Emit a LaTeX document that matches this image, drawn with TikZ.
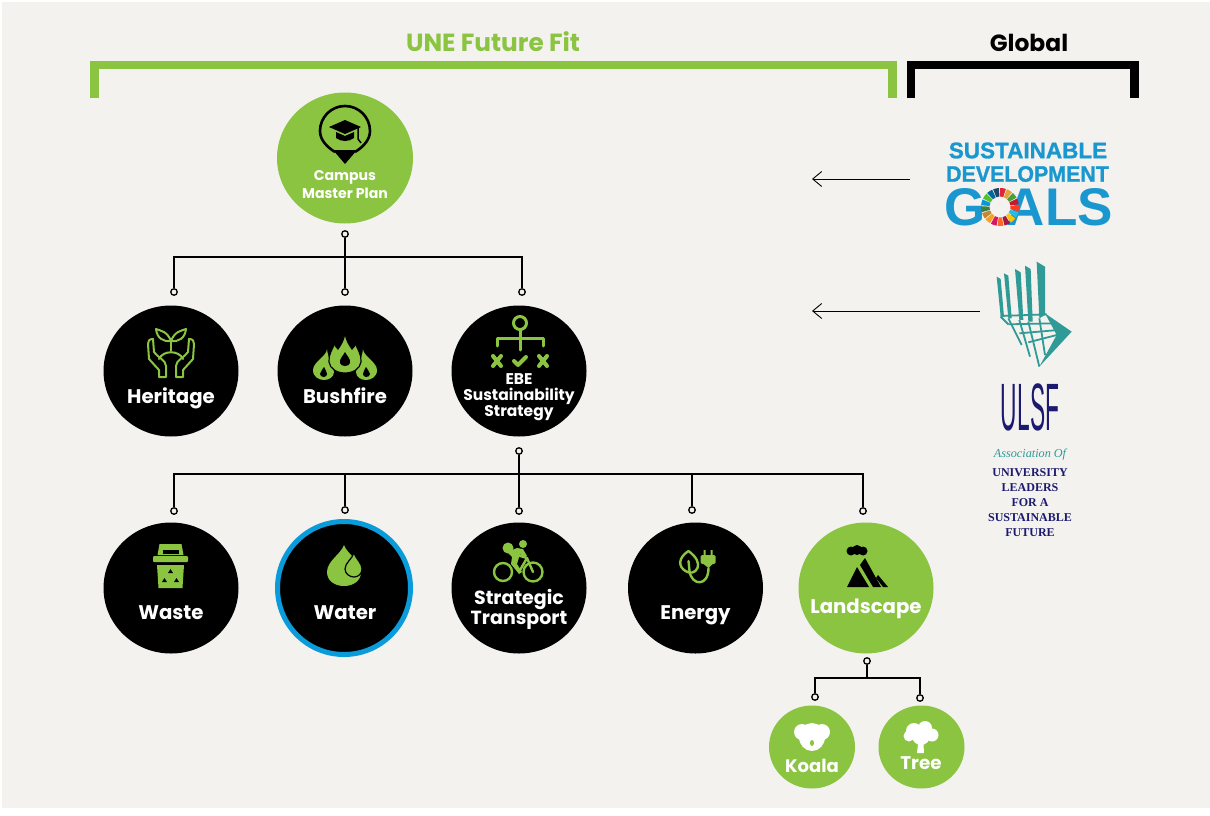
\documentclass[tikz,border=0pt]{standalone}
\usepackage{fontspec}
\usepackage{graphicx}
\setmainfont{Poppins}
\newfontfamily\logofont{Liberation Sans}
\newfontfamily\sdgfont[FakeBold=1.2]{Liberation Sans}
\newfontfamily\ulsffont{Liberation Serif}
\usetikzlibrary{arrows.meta,shapes.geometric}
\definecolor{unegreen}{HTML}{8AC440}
\definecolor{waterblue}{HTML}{0A9BDB}
\definecolor{sdgblue}{HTML}{1A97CF}
\definecolor{paper}{HTML}{F3F2EF}
\definecolor{ulsfteal}{HTML}{2F9A96}
\definecolor{ulsfnavy}{HTML}{1C1A6E}
\begin{document}
\begin{tikzpicture}[x=1pt,y=-1pt,>={Straight Barb[length=9pt,width=15pt]}]
\tikzset{
  topicbox/.style={ellipse,inner sep=0,minimum width=135pt,minimum height=131pt,fill=black},
  greenbox/.style={topicbox,fill=unegreen},
  smallbox/.style={greenbox,minimum width=86pt,minimum height=83pt},
  boxlabel/.style={text=white,font=\bfseries\fontsize{19.7}{20}\selectfont,align=center,inner sep=0,anchor=base},
  stacklabel/.style={boxlabel,anchor=center},
  pin/.style={circle,draw=black,fill=paper,line width=1.3pt,inner sep=0,minimum size=6.5pt},
  link/.style={draw=black,line width=1.2pt},
  seticon/.style={unegreen,line width=2pt,line cap=round,line join=round},
  bracket/.style={line width=8.5pt,line join=miter},
}
\useasboundingbox (0,0) rectangle (1210,816);
\fill[white] (0,0) rectangle (1210,816);
\fill[paper] (2,2) rectangle (1210,808);
%% grid
\def \xa {171}
\def \xb {345}
\def \xc {519}
\def \xd {695.5}
\def \xe {866}
\def \yrowa {371}
\def \yrowb {588}

%% headers
\node[text=unegreen,font=\bfseries\fontsize{24.8}{25}\selectfont] (unehead) at (493,42) {UNE Future Fit};
\node[text=black,font=\bfseries\fontsize{23.4}{24}\selectfont] (globalhead) at (1029,43) {Global};
\draw[bracket,draw=unegreen] (94.5,98) |- (892.5,65) -- (892.5,98);
\draw[bracket,draw=black] (911,98) |- (1134.5,65) -- (1134.5,98);

%% circles
\node[greenbox,minimum width=136pt] (master) at (\xb,158) {};
\node[topicbox] (heritage) at (\xa,\yrowa) {};
\node[topicbox] (bushfire) at (\xb,\yrowa) {};
\node[topicbox] (ebe) at (\xc,\yrowa) {};
\node[topicbox] (waste) at (\xa,\yrowb) {};
\node[topicbox,draw=waterblue,line width=5pt,minimum width=133pt,minimum height=133pt] (water) at (344,\yrowb) {};
\node[topicbox] (transport) at (\xc,\yrowb) {};
\node[topicbox] (energy) at (\xd,\yrowb) {};
\node[greenbox] (landscape) at (\xe,\yrowb) {};
\node[smallbox] (koala) at (812,747) {};
\node[smallbox] (tree) at (921.5,747) {};

%% labels
\node[stacklabel,font=\bfseries\fontsize{14.1}{18}\selectfont] (masterlab) at (\xb,185) {Campus\\Master Plan};
\node[boxlabel] (heritagelab) at (\xa,403) {Heritage};
\node[boxlabel] (bushfirelab) at (\xb,403) {Bushfire};
\node[stacklabel,font=\bfseries\fontsize{15.5}{16}\selectfont] (ebelab) at (\xc,397) {EBE\\Sustainability\\Strategy};
\node[boxlabel] (wastelab) at (\xa,619) {Waste};
\node[boxlabel] (waterlab) at (\xb,619) {Water};
\node[stacklabel,font=\bfseries\fontsize{19}{19.5}\selectfont] (transportlab) at (\xc,609.5) {Strategic\\Transport};
\node[boxlabel] (energylab) at (\xd,619) {Energy};
\node[boxlabel] (landscapelab) at (\xe,613) {Landscape};
\node[boxlabel,font=\bfseries\fontsize{18}{18}\selectfont] (koalalab) at (812,772) {Koala};
\node[boxlabel,font=\bfseries\fontsize{18.3}{18}\selectfont] (treelab) at (921,769) {Tree};

%% pins
\node[pin] (pinmaster) at (\xb,234) {};
\node[pin] (pinheritage) at (174,292) {};
\node[pin] (pinbushfire) at (\xb,292) {};
\node[pin] (pinebe) at (522,292) {};
\node[pin] (pinebedown) at (\xc,451) {};
\node[pin] (pinwaste) at (174,511) {};
\node[pin] (pinwater) at (\xb,510) {};
\node[pin] (pintransport) at (\xc,511) {};
\node[pin] (pinenergy) at (692,510) {};
\node[pin] (pinlandscape) at (863,511) {};
\node[pin] (pinlanddown) at (867,661) {};
\node[pin] (pinkoala) at (815,697) {};
\node[pin] (pintree) at (920,698) {};
\coordinate (busa) at (\xb,257);
\coordinate (busb) at (\xc,474);
\coordinate (busc) at (867,678);

% paths
\draw[link] (pinmaster) -- (pinbushfire);
\draw[link] (pinheritage) |- (busa) -| (pinebe);
\draw[link] (pinebedown) -- (pintransport);
\draw[link] (pinwaste) |- (busb) -| (pinlandscape);
\draw[link] (pinwater) -- (pinwater |- busb);
\draw[link] (pinenergy) -- (pinenergy |- busb);
\draw[link] (pinlanddown) -- (busc);
\draw[link] (pinkoala) |- (busc) -| (pintree);

%% icons
% graduation pin
\begin{scope}[shift={(\xb,135)}]
\draw[black,line width=2.6pt,line join=round] (-10,17) .. controls (-18,12) and (-25,5) .. (-25,-4) arc (180:360:25) .. controls (25,5) and (18,12) .. (10,17);
\fill[black] (-12,15) -- (12,15) -- (0,29) -- cycle;
\fill[black] (0,-15) -- (16,-8) -- (0,-1) -- (-16,-8) -- cycle;
\fill[black] (-9,-3) -- (0,1) -- (9,-3) -- (9,3) .. controls (4,7) and (-4,7) .. (-9,3) -- cycle;
\draw[black,line width=1.5pt] (13,-8) -- (13,4) -- (16,8);
\end{scope}
% plant and hands
\begin{scope}[shift={(\xa,353)},seticon]
\draw (0,-2) -- (0,-12);
\draw (0,-12) .. controls (-4,-22) and (-10,-22) .. (-15,-24) .. controls (-14,-15) and (-8,-11) .. (0,-12);
\draw (0,-12) .. controls (4,-22) and (10,-22) .. (15,-24) .. controls (14,-15) and (8,-11) .. (0,-12);
\draw (-12,6) .. controls (-8,-3) and (8,-3) .. (12,6);
\draw (-5,24) -- (-5,13) .. controls (-5,7) and (-14,4) .. (-17,-1) -- (-18,-14) .. controls (-22,-14) and (-23,-12) .. (-23,-9) -- (-22,6) -- (-12,17) -- (-12,24) -- cycle;
\draw (5,24) -- (5,13) .. controls (5,7) and (14,4) .. (17,-1) -- (18,-14) .. controls (22,-14) and (23,-12) .. (23,-9) -- (22,6) -- (12,17) -- (12,24) -- cycle;
\end{scope}
% flames
\begin{scope}[shift={(\xb,358)}]
\foreach \flameside in {-1,1}{
\fill[unegreen,xscale=\flameside] (18,-9) .. controls (18,-2) and (32,4) .. (32,12) .. controls (32,19) and (26,22) .. (21,22) .. controls (16,22) and (11,19) .. (11,14) .. controls (11,8) and (17,2) .. (18,-9) -- cycle;
\fill[black,xscale=\flameside] (21,9) .. controls (22,12) and (25,13) .. (25,16) .. controls (25,18) and (23,19) .. (21,19) .. controls (19,19) and (18,17) .. (18,16) .. controls (18,13) and (20,12) .. (21,9) -- cycle;
}
\fill[unegreen,draw=black,line width=1.2pt] (0,-26) .. controls (1,-17) and (5,-12) .. (7,-9) .. controls (9,-10) and (10,-13) .. (10,-15) .. controls (12,-10) and (17,-3) .. (16,4) .. controls (15,11) and (8,15) .. (0,15) .. controls (-8,15) and (-15,11) .. (-16,4) .. controls (-17,-3) and (-12,-10) .. (-10,-15) .. controls (-10,-13) and (-9,-10) .. (-7,-9) .. controls (-5,-12) and (-1,-17) .. (0,-26) -- cycle;
\fill[black] (0,-6) .. controls (2,-2) and (6,1) .. (5,5) .. controls (4,9) and (-4,9) .. (-5,5) .. controls (-6,1) and (-2,-2) .. (0,-6) -- cycle;
\end{scope}
% decision tree
\begin{scope}[shift={(520,331)},seticon,line width=3pt]
\draw (0,-8) circle (6.5);
\draw (0,-1.5) -- (0,19);
\draw (-23,15) -- (-23,7) -- (23,7) -- (23,15);
\draw[line width=4pt] (-27,25) -- (-19,35) (-19,25) -- (-27,35) (19,25) -- (27,35) (27,25) -- (19,35);
\draw[line width=4pt] (-6,30) -- (-2,34) -- (6,26);
\end{scope}
% bin
\begin{scope}[shift={(170.5,566)}]
\fill[unegreen] (-11,-22) -- (11,-22) -- (13,-11) -- (-13,-11) -- cycle;
\fill[black] (-8,-16) rectangle (8,-12);
\fill[unegreen,rounded corners=1pt] (-17.5,-10) rectangle (17.5,-4);
\fill[unegreen] (-13.5,-1) -- (13.5,-1) -- (12,22) -- (-12,22) -- cycle;
\foreach \arrowdx/\arrowdy in {0/-1,-6/8,6/8}{
\fill[black] (\arrowdx-2.5,\arrowdy+2+6) -- (\arrowdx+2.5,\arrowdy+2+6) -- (\arrowdx,\arrowdy-2+6) -- cycle;
}
\end{scope}
% drops
\begin{scope}[shift={(344,566)}]
\fill[unegreen] (0,-21) .. controls (3,-12) and (17,-5) .. (17,6) .. controls (17,15) and (9,20) .. (0,20) .. controls (-9,20) and (-17,15) .. (-17,6) .. controls (-17,-5) and (-3,-12) .. (0,-21) -- cycle;
\fill[unegreen,draw=black,line width=1.2pt] (10,-13) .. controls (12,-7) and (18,-3) .. (18,3) .. controls (18,8) and (14,11) .. (10,11) .. controls (6,11) and (1,8) .. (1,3) .. controls (1,-3) and (8,-7) .. (10,-13) -- cycle;
\end{scope}
% cyclist
\begin{scope}[shift={(\xc,561)}]
\draw[seticon,line width=2.4pt] (-16,11) circle (9) (14,11) circle (9.5);
\draw[seticon,line width=2.4pt] (14,11) -- (8,-3) -- (-2,-6) (8,-3) -- (0,11);
\fill[unegreen] (4,-17) circle (4);
\fill[unegreen] (-11,-13) circle (5.5);
\fill[unegreen] (-12,-9) -- (-2,-13) -- (4,-12) -- (8,-5) -- (4,-3) -- (1,-7) -- (-2,3) -- (3,11) -- (0,13) -- (-8,3) -- (-7,-4) -- cycle;
\end{scope}
% leaf and plug
\begin{scope}[shift={(\xd,565)},seticon,line width=2.4pt]
\draw (-7,-14) .. controls (1,-8) and (4,-2) .. (2,3) .. controls (0,8) and (-6,9) .. (-10,6) .. controls (-17,2) and (-18,-7) .. (-7,-14) -- cycle;
\draw (-7,-4) -- (-6,6) .. controls (-4,21) and (13,22) .. (13,3);
\fill[unegreen,rounded corners=1.5pt] (5,-10) rectangle (20,-1);
\fill[unegreen] (8,-15) rectangle (10,-10) (15,-15) rectangle (17,-10);
\fill[unegreen] (8,-1) -- (17,-1) -- (13,3) -- cycle;
\end{scope}
% mountain
\begin{scope}[shift={(\xe,568)}]
\fill[black] (-15,-17) circle (4.5) (-9,-18) circle (5) (-3,-17) circle (4.5);
\fill[black] (-19,19) -- (-9,-1) -- (3,19) -- cycle;
\fill[black] (-6,-3) -- (-1,-10) -- (15,19) -- (7,19) -- cycle;
\fill[black] (12,7) -- (22,19) -- (17,19) -- (10,10) -- cycle;
\end{scope}
% koala
\begin{scope}[shift={(812,740)}]
\fill[white] (-10,-8) circle (8) (10,-8) circle (8);
\fill[white] (0,-3) ellipse (13 and 14);
\fill[unegreen] (0,3) ellipse (2 and 3);
\end{scope}
% tree
\begin{scope}[shift={(921,744)}]
\fill[white] (-7,-13) circle (8) (4,-16) circle (7) (11,-9) circle (6.5) (-12,-8) circle (5.5) (0,-8) circle (9);
\fill[white] (-2,-8) -- (2,-8) -- (3,9) -- (-4,9) -- cycle;
\end{scope}

%% logos
\node[text=sdgblue,font=\sdgfont\bfseries\fontsize{22.5}{22.5}\selectfont,inner sep=0] (sdgtop) at (1028,150.5) {SUSTAINABLE};
\node[text=sdgblue,font=\sdgfont\bfseries\fontsize{22.5}{22.5}\selectfont,inner sep=0] (sdgmid) at (1027.5,174) {\scalebox{.95}[1]{DEVELOPMENT}};
\node[text=sdgblue,font=\logofont\bfseries\fontsize{53}{53}\selectfont,inner sep=0,anchor=west] (sdgg) at (944,207) {G};
\node[text=sdgblue,font=\logofont\bfseries\fontsize{53}{53}\selectfont,inner sep=0,anchor=east] (sdgals) at (1113,207) {ALS};
\foreach \wheelcol [count=\wheeli from 0] in {E5243B,DDA63A,4C9F38,C5192D,FF3A21,26BDE2,FCC30B,A21942,FD6925,DD1367,FD9D24,BF8B2E,3F7E44,0A97D9,56C02B,00689D,19486A}{
\definecolor{wheelc}{HTML}{\wheelcol}
\pgfmathsetmacro{\wheela}{-90+\wheeli*21.18}
\fill[wheelc] (1000,207) ++(\wheela:19) arc (\wheela:\wheela+18:19) -- ++(\wheela+18:-8.5) arc (\wheela+18:\wheela:10.5) -- cycle;
}
\coordinate (sdgstart) at (910,179);
\coordinate (sdgend) at (812,179);
\draw[->,black,line width=.9pt] (sdgstart) -- (sdgend);
\coordinate (ulsfstart) at (980,311);
\coordinate (ulsfend) at (812,311);
\draw[->,black,line width=.9pt] (ulsfstart) -- (ulsfend);

% ulsf chair
\begin{scope}[ulsfteal,shift={(990,255)},scale=.3333]
\fill (20,65) -- (32,72) -- (42,185) -- (32,185) -- cycle;
\fill (42,55) -- (55,62) -- (65,190) -- (55,190) -- cycle;
\fill (75,42) -- (92,52) -- (100,195) -- (88,195) -- cycle;
\fill (105,32) -- (122,42) -- (128,200) -- (115,200) -- cycle;
\fill (140,20) -- (165,35) -- (165,180) -- (148,190) -- cycle;
\draw[line width=1.8pt] (32,183) -- (170,178) (55,208) -- (190,205) (88,235) -- (205,225) (115,262) -- (220,235);
\draw[line width=1.8pt] (32,185) -- (55,208) (55,190) -- (95,270) (88,195) -- (120,305) (115,200) -- (148,335) (148,190) -- (165,300);
\fill (165,175) -- (245,230) -- (148,335) -- (200,240) -- cycle;
\end{scope}
\node[inner sep=0,text=ulsfnavy] (ulsflab) at (1030,407.5) {\scalebox{.34}[1]{\logofont\fontsize{67}{67}\selectfont ULSF}};
\node[inner sep=0,text=ulsfteal,font=\ulsffont\itshape\fontsize{12.2}{12}\selectfont] (assoclab) at (1030,454) {Association Of};
\node[inner sep=0,text=ulsfnavy,align=center,font=\ulsffont\bfseries\fontsize{12}{15}\selectfont] (ulsfname) at (1030,502.5) {UNIVERSITY\\LEADERS\\FOR A\\SUSTAINABLE\\FUTURE};
\end{tikzpicture}
\end{document}
